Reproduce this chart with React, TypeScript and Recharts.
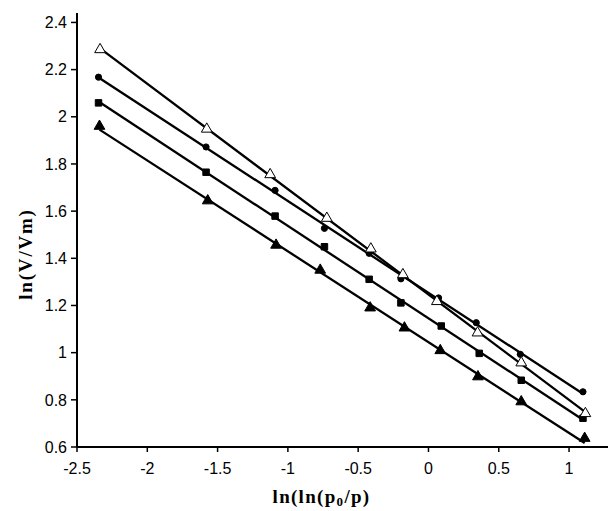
import { ScatterChart, Scatter, XAxis, YAxis, Symbols } from "recharts";

// axis ticks
const xTicks = [-2.5, -2, -1.5, -1, -0.5, 0, 0.5, 1];
const yTicks = [0.6, 0.8, 1, 1.2, 1.4, 1.6, 1.8, 2, 2.2, 2.4];

// open triangles
const openTriX = [-2.336, -1.577, -1.126, -0.723, -0.41, -0.182, 0.06, 0.349, 0.66, 1.116];
const openTriY = [2.285, 1.948, 1.755, 1.57, 1.44, 1.331, 1.217, 1.084, 0.957, 0.742];

// filled circles
const circleX = [-2.347, -1.582, -1.091, -0.74, -0.422, -0.196, 0.072, 0.34, 0.653, 1.099];
const circleY = [2.168, 1.872, 1.688, 1.527, 1.421, 1.313, 1.232, 1.127, 0.993, 0.834];

// filled squares
const squareX = [-2.347, -1.582, -1.091, -0.74, -0.422, -0.196, 0.091, 0.361, 0.66, 1.099];
const squareY = [2.059, 1.765, 1.579, 1.449, 1.311, 1.211, 1.113, 0.997, 0.883, 0.722];

// filled triangles
const fillTriX = [-2.34, -1.57, -1.084, -0.77, -0.415, -0.171, 0.084, 0.352, 0.66, 1.111];
const fillTriY = [1.96, 1.644, 1.456, 1.35, 1.19, 1.105, 1.009, 0.898, 0.792, 0.637];

const toPoints = (xs: number[], ys: number[]) => xs.map((x, i) => ({ x, y: ys[i] }));

const xDomain = [-2.5, 1.277];
const yDomain = [0.6, 2.44];

const tickFont = { fill: "#000", fontSize: 16, fontFamily: "'Liberation Sans', Arial, sans-serif" };
const titleFont = "'Liberation Serif', 'Times New Roman', serif";
const fitLine = { stroke: "#000", strokeWidth: 2.3 };

const marker = (type: any, size: number, fill: string) => (props: any) => (
  <Symbols cx={props.cx} cy={props.cy} type={type} size={size} fill={fill} stroke="#000" strokeWidth={1} />
);

const fmt = (v: number) => String(parseFloat(v.toFixed(1)));

const XTitle = (props: any) => {
  const vb = props.viewBox;
  return (
    <text x={vb.x + vb.width / 2 - 21} y={503} textAnchor="middle" fontFamily={titleFont} fontWeight="bold" fontSize={19} letterSpacing={1.3} fill="#000">
      ln(ln(p<tspan fontSize={13} dy={3}>0</tspan>
      <tspan dy={-3}>/p)</tspan>
    </text>
  );
};

const YTitle = () => (
  <text x={32} y={254} transform="rotate(-90 32 254)" textAnchor="middle" fontFamily={titleFont} fontWeight="bold" fontSize={19} letterSpacing={1.8} fill="#000">
    ln(V/Vm)
  </text>
);

export default function App() {
  return (
    <div style={{ position: "absolute", left: 0, top: 0, background: "#fff" }}>
      <ScatterChart width={609} height={511} margin={{ top: 13, right: 1, left: 0, bottom: 0 }}>
        <XAxis
          dataKey="x"
          type="number"
          domain={xDomain}
          ticks={xTicks}
          allowDataOverflow
          tickFormatter={fmt}
          tick={tickFont}
          tickSize={5}
          tickMargin={11}
          height={64}
          axisLine={{ stroke: "#000", strokeWidth: 2 }}
          tickLine={{ stroke: "#000", strokeWidth: 1.5 }}
          label={XTitle}
        />
        <XAxis
          xAxisId="top"
          orientation="top"
          type="number"
          domain={xDomain}
          height={0}
          tick={false}
          tickLine={false}
          axisLine={{ stroke: "#000", strokeWidth: 2 }}
        />
        <YAxis
          dataKey="y"
          type="number"
          domain={yDomain}
          ticks={yTicks}
          allowDataOverflow
          tickFormatter={fmt}
          tick={tickFont}
          tickSize={6}
          tickMargin={4}
          width={77}
          axisLine={{ stroke: "#000", strokeWidth: 2 }}
          tickLine={{ stroke: "#000", strokeWidth: 1.5 }}
          label={YTitle}
        />
        <YAxis
          yAxisId="right"
          orientation="right"
          type="number"
          domain={yDomain}
          width={0}
          tick={false}
          tickLine={false}
          axisLine={{ stroke: "#999", strokeWidth: 1.5 }}
        />
        <Scatter data={toPoints(fillTriX, fillTriY)} line={fitLine} lineType="fitting" shape={marker("triangle", 50, "#000")} isAnimationActive={false} />
        <Scatter data={toPoints(squareX, squareY)} line={fitLine} lineType="fitting" shape={marker("square", 42, "#000")} isAnimationActive={false} />
        <Scatter data={toPoints(circleX, circleY)} line={fitLine} lineType="fitting" shape={marker("circle", 30, "#000")} isAnimationActive={false} />
        <Scatter data={toPoints(openTriX, openTriY)} line={fitLine} lineType="fitting" shape={marker("triangle", 50, "#fff")} isAnimationActive={false} />
      </ScatterChart>
    </div>
  );
}
